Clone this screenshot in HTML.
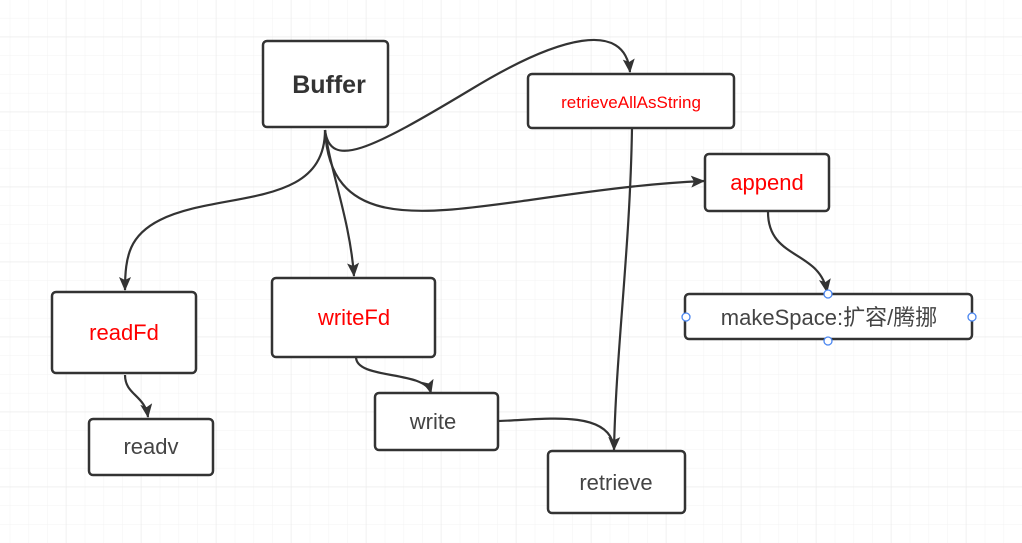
<!DOCTYPE html>
<html><head><meta charset="utf-8"><style>
html,body{margin:0;padding:0;background:#fff}
svg{display:block}
text{font-family:"Liberation Sans","Noto Sans CJK SC",sans-serif}
</style></head><body>
<svg width="1022" height="543" viewBox="0 0 1022 543" xmlns="http://www.w3.org/2000/svg">
<defs>
<pattern id="g" x="9.8" y="-0.8" width="18.75" height="18.75" patternUnits="userSpaceOnUse">
<path d="M0 0V18.75M0 0H18.75" stroke="#f3f3f3" stroke-width="1" fill="none"/>
</pattern>
<pattern id="G" x="65.8" y="36.7" width="75" height="75" patternUnits="userSpaceOnUse">
<path d="M0 0V75M0 0H75" stroke="#e8e8e8" stroke-width="1" fill="none"/>
</pattern>
<marker id="a" markerWidth="14" markerHeight="14" refX="13" refY="7" orient="auto" markerUnits="userSpaceOnUse" viewBox="0 0 14 14">
<path d="M0 1L14 7L0 13L3 7Z" fill="#333"/>
</marker>
</defs>
<rect width="1022" height="543" fill="url(#g)"/>
<rect width="1022" height="543" fill="url(#G)"/>
<g fill="none" stroke="#333" stroke-width="2.2">
<path d="M325 130C330 170 370 150 470 90C560 35 625 20 630 72" marker-end="url(#a)"/>
<path d="M325 130C325 210 220 190 160 220C130 235 125 255 125 290" marker-end="url(#a)"/>
<path d="M325 130C330 170 350 220 354 276" marker-end="url(#a)"/>
<path d="M325 130C330 230 420 215 530 200C620 187 660 183 704 181" marker-end="url(#a)"/>
<path d="M768 212C768 260 820 250 827 292" marker-end="url(#a)"/>
<path d="M632 128C630 250 616 350 614 450" marker-end="url(#a)"/>
<path d="M125 375C125 395 145 395 148 417" marker-end="url(#a)"/>
<path d="M356 357C356 380 425 370 431 393" marker-end="url(#a)"/>
<path d="M498 421C540 420 600 410 612 440"/>
</g>
<g fill="#fff" stroke="#333" stroke-width="2.5">
<rect x="263" y="41" width="125" height="86" rx="4"/>
<rect x="528" y="74" width="206" height="54" rx="4"/>
<rect x="705" y="154" width="124" height="57" rx="4"/>
<rect x="685" y="294" width="287" height="45" rx="4"/>
<rect x="52" y="292" width="144" height="81" rx="4"/>
<rect x="272" y="278" width="163" height="79" rx="4"/>
<rect x="89" y="419" width="124" height="56" rx="4"/>
<rect x="375" y="393" width="123" height="57" rx="4"/>
<rect x="548" y="451" width="137" height="62" rx="4"/>
</g>
<g fill="#fff" stroke="#4a86f0" stroke-width="1.3">
<circle cx="828" cy="294" r="4"/><circle cx="828" cy="341" r="4"/>
<circle cx="686" cy="317" r="4"/><circle cx="972" cy="317" r="4"/>
</g>
<g text-anchor="middle" font-size="22">
<text x="329" y="93" font-weight="bold" font-size="25" fill="#333">Buffer</text>
<text x="631" y="108" font-size="17" fill="#f00">retrieveAllAsString</text>
<text x="767" y="190" fill="#f00">append</text>
<text x="829" y="325" fill="#444">makeSpace:扩容/腾挪</text>
<text x="124" y="340" fill="#f00">readFd</text>
<text x="354" y="325" fill="#f00">writeFd</text>
<text x="151" y="454" fill="#444">readv</text>
<text x="433" y="429" fill="#444">write</text>
<text x="616" y="490" fill="#444">retrieve</text>
</g>
</svg>
</body></html>
